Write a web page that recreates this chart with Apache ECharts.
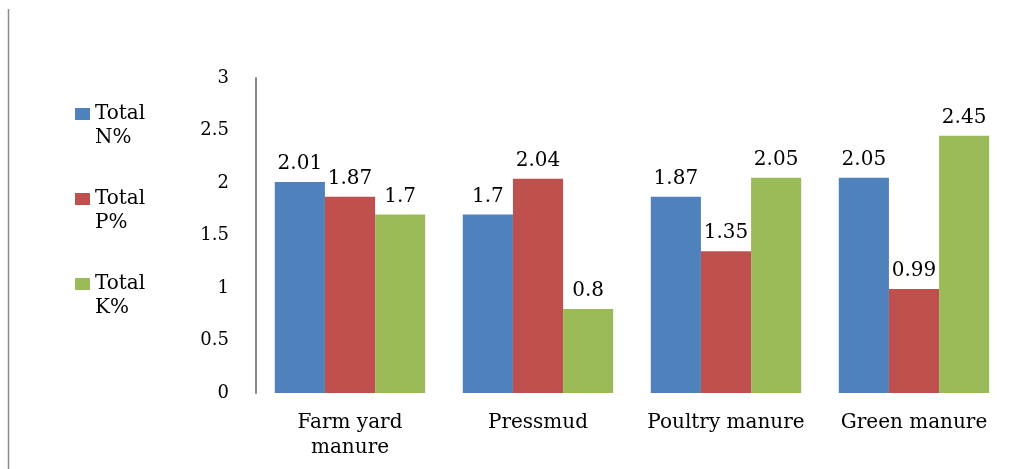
<!DOCTYPE html>
<html>
<head>
<meta charset="utf-8">
<script src="https://cdn.jsdelivr.net/npm/echarts@6/dist/echarts.min.js"></script>
<style>
  html, body { margin: 0; padding: 0; background: #fff; }
  #chart { width: 1018px; height: 469px; }
</style>
</head>
<body>
<div id="chart"></div>
<script>
// Nutrient content of organic manures (%)
const categories = ['Farm yard\nmanure', 'Pressmud', 'Poultry manure', 'Green manure'];
const seriesNames = ['Total N%', 'Total P%', 'Total K%'];
const totalN = [2.01, 1.7, 1.87, 2.05];
const totalP = [1.87, 2.04, 1.35, 0.99];
const totalK = [1.7, 0.8, 2.05, 2.45];
const colors = ['#4F81BD', '#C0504D', '#9BBB59'];

const FONT = 'DejaVu Serif';
const chart = echarts.init(document.getElementById('chart'));

function barSeries(name, data, color) {
  return {
    name: name,
    type: 'bar',
    data: data,
    barGap: '0%',
    barCategoryGap: '20%',
    itemStyle: { color: color },
    label: {
      show: true,
      position: 'top',
      distance: 8,
      color: '#000',
      fontFamily: FONT,
      fontSize: 20
    }
  };
}

chart.setOption({
  animation: false,
  backgroundColor: '#fff',
  color: colors,
  grid: { left: 256, right: 10, top: 78, bottom: 76, containLabel: false },
  legend: {
    orient: 'vertical',
    left: 75,
    top: 78,
    padding: 0,
    itemWidth: 15,
    itemHeight: 12,
    itemGap: 13,
    icon: 'rect',
    // leading empty line keeps the swatch level with the first word
    formatter: function (n) { return '\n' + n.replace(' ', '\n'); },
    textStyle: {
      color: '#000',
      fontFamily: FONT,
      fontSize: 20,
      lineHeight: 24
    },
    data: seriesNames
  },
  xAxis: {
    type: 'category',
    data: categories,
    axisLine: { show: false },
    axisTick: { show: false },
    axisLabel: {
      margin: 17,
      color: '#000',
      fontFamily: FONT,
      fontSize: 20,
      lineHeight: 25,
      interval: 0
    }
  },
  yAxis: {
    type: 'value',
    min: 0,
    max: 3,
    interval: 0.5,
    splitLine: { show: false },
    axisTick: { show: false },
    axisLine: { show: true, lineStyle: { color: '#868686', width: 2 } },
    axisLabel: {
      margin: 27,
      color: '#000',
      fontFamily: FONT,
      fontSize: 18
    }
  },
  graphic: [{
    type: 'line',
    shape: { x1: 8.5, y1: 9, x2: 8.5, y2: 469 },
    style: { stroke: '#8c8c8c', lineWidth: 1.5 }
  }],
  series: [
    barSeries(seriesNames[0], totalN, colors[0]),
    barSeries(seriesNames[1], totalP, colors[1]),
    barSeries(seriesNames[2], totalK, colors[2])
  ]
});
</script>
</body>
</html>
